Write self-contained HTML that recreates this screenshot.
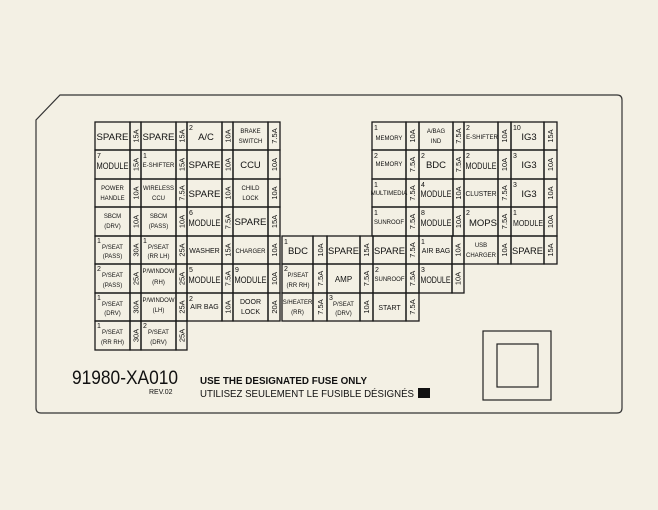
<!DOCTYPE html>
<html><head><meta charset="utf-8"><style>
html,body{margin:0;padding:0;background:#f3f0e4;}
svg{display:block}
.c{fill:none;stroke:#1a1a1a;stroke-width:1.3}
text{font-family:"Liberation Sans",sans-serif;fill:#111}
.b{font-size:9.5px;text-anchor:middle}
.s{font-size:6px;text-anchor:middle}
.n{font-size:7px}
.a{font-size:7.5px;text-anchor:middle}
</style></head><body>
<svg width="658" height="510" viewBox="0 0 658 510" xmlns="http://www.w3.org/2000/svg">
<rect width="658" height="510" fill="#f3f0e4"/>
<path d="M60,95 L617,95 Q622,95 622,100 L622,408 Q622,413 617,413 L41,413 Q36,413 36,408 L36,120 Z" fill="none" stroke="#333" stroke-width="1.2"/>
<rect x="483" y="331" width="68" height="69" fill="none" stroke="#222" stroke-width="1.2"/>
<rect x="497" y="344" width="41" height="43" fill="none" stroke="#222" stroke-width="1.2"/>
<text x="72" y="384" style="font-size:19px;font-weight:300" textLength="106" lengthAdjust="spacingAndGlyphs">91980-XA010</text>
<text x="149" y="394" style="font-size:7px">REV.02</text>
<text x="200" y="384" style="font-size:10px;font-weight:bold" textLength="167" lengthAdjust="spacingAndGlyphs">USE THE DESIGNATED FUSE ONLY</text>
<text x="200" y="397" style="font-size:10px" textLength="214" lengthAdjust="spacingAndGlyphs">UTILISEZ SEULEMENT LE FUSIBLE DÉSIGNÉS</text>
<rect x="418" y="388" width="12" height="10" fill="#111"/>

<g id="cells">
<!-- Row 1 -->
<rect class="c" x="95" y="122" width="35" height="28"/><rect class="c" x="130" y="122" width="11" height="28"/>
<text class="b" x="112.5" y="140" textLength="32" lengthAdjust="spacingAndGlyphs">SPARE</text><text class="a" transform="translate(138.5,136) rotate(-90)">15A</text>
<rect class="c" x="141" y="122" width="35" height="28"/><rect class="c" x="176" y="122" width="11" height="28"/>
<text class="b" x="158.5" y="140" textLength="32" lengthAdjust="spacingAndGlyphs">SPARE</text><text class="a" transform="translate(184.5,136) rotate(-90)">15A</text>
<rect class="c" x="187" y="122" width="35" height="28"/><rect class="c" x="222" y="122" width="11" height="28"/>
<text class="n" x="189" y="130">2</text><text class="b" x="206" y="140">A/C</text><text class="a" transform="translate(230.5,136) rotate(-90)">10A</text>
<rect class="c" x="233" y="122" width="35" height="28"/><rect class="c" x="268" y="122" width="12" height="28"/>
<text class="s" x="250.5" y="133">BRAKE</text><text class="s" x="250.5" y="143">SWITCH</text><text class="a" transform="translate(277,136) rotate(-90)">7.5A</text>

<rect class="c" x="372" y="122" width="34" height="28"/><rect class="c" x="406" y="122" width="13" height="28"/>
<text class="n" x="374" y="130">1</text><text class="s" x="389" y="140">MEMORY</text><text class="a" transform="translate(415,136) rotate(-90)">10A</text>
<rect class="c" x="419" y="122" width="34" height="28"/><rect class="c" x="453" y="122" width="11" height="28"/>
<text class="s" x="436" y="133">A/BAG</text><text class="s" x="436" y="143">IND</text><text class="a" transform="translate(461,136) rotate(-90)">7.5A</text>
<rect class="c" x="464" y="122" width="34" height="28"/><rect class="c" x="498" y="122" width="13" height="28"/>
<text class="n" x="466" y="130">2</text><text class="s" x="482" y="139">E-SHIFTER</text><text class="a" transform="translate(507,136) rotate(-90)">10A</text>
<rect class="c" x="511" y="122" width="33" height="28"/><rect class="c" x="544" y="122" width="13" height="28"/>
<text class="n" x="513" y="130">10</text><text class="b" x="529" y="140">IG3</text><text class="a" transform="translate(553,136) rotate(-90)">15A</text>

<!-- Row 2 -->
<rect class="c" x="95" y="150" width="35" height="29"/><rect class="c" x="130" y="150" width="11" height="29"/>
<text class="n" x="97" y="158">7</text><text class="b" x="112.5" y="169" textLength="32" lengthAdjust="spacingAndGlyphs">MODULE</text><text class="a" transform="translate(138.5,164.5) rotate(-90)">15A</text>
<rect class="c" x="141" y="150" width="35" height="29"/><rect class="c" x="176" y="150" width="11" height="29"/>
<text class="n" x="143" y="158">1</text><text class="s" x="158.5" y="167">E-SHIFTER</text><text class="a" transform="translate(184.5,164.5) rotate(-90)">15A</text>
<rect class="c" x="187" y="150" width="35" height="29"/><rect class="c" x="222" y="150" width="11" height="29"/>
<text class="b" x="204.5" y="168" textLength="32" lengthAdjust="spacingAndGlyphs">SPARE</text><text class="a" transform="translate(230.5,164.5) rotate(-90)">10A</text>
<rect class="c" x="233" y="150" width="35" height="29"/><rect class="c" x="268" y="150" width="12" height="29"/>
<text class="b" x="250.5" y="168">CCU</text><text class="a" transform="translate(277,164.5) rotate(-90)">10A</text>

<rect class="c" x="372" y="150" width="34" height="29"/><rect class="c" x="406" y="150" width="13" height="29"/>
<text class="n" x="374" y="158">2</text><text class="s" x="389" y="166">MEMORY</text><text class="a" transform="translate(415,164.5) rotate(-90)">7.5A</text>
<rect class="c" x="419" y="150" width="34" height="29"/><rect class="c" x="453" y="150" width="11" height="29"/>
<text class="n" x="421" y="158">2</text><text class="b" x="436" y="168">BDC</text><text class="a" transform="translate(461,164.5) rotate(-90)">7.5A</text>
<rect class="c" x="464" y="150" width="34" height="29"/><rect class="c" x="498" y="150" width="13" height="29"/>
<text class="n" x="466" y="158">2</text><text class="b" x="481" y="169" textLength="31" lengthAdjust="spacingAndGlyphs">MODULE</text><text class="a" transform="translate(507,164.5) rotate(-90)">10A</text>
<rect class="c" x="511" y="150" width="33" height="29"/><rect class="c" x="544" y="150" width="13" height="29"/>
<text class="n" x="513" y="158">3</text><text class="b" x="529" y="168">IG3</text><text class="a" transform="translate(553,164.5) rotate(-90)">10A</text>

<!-- Row 3 -->
<rect class="c" x="95" y="179" width="35" height="28"/><rect class="c" x="130" y="179" width="11" height="28"/>
<text class="s" x="112.5" y="190">POWER</text><text class="s" x="112.5" y="200">HANDLE</text><text class="a" transform="translate(138.5,193) rotate(-90)">10A</text>
<rect class="c" x="141" y="179" width="35" height="28"/><rect class="c" x="176" y="179" width="11" height="28"/>
<text class="s" x="158.5" y="190">WIRELESS</text><text class="s" x="158.5" y="200">CCU</text><text class="a" transform="translate(184.5,193) rotate(-90)">7.5A</text>
<rect class="c" x="187" y="179" width="35" height="28"/><rect class="c" x="222" y="179" width="11" height="28"/>
<text class="b" x="204.5" y="197" textLength="32" lengthAdjust="spacingAndGlyphs">SPARE</text><text class="a" transform="translate(230.5,193) rotate(-90)">10A</text>
<rect class="c" x="233" y="179" width="35" height="28"/><rect class="c" x="268" y="179" width="12" height="28"/>
<text class="s" x="250.5" y="190">CHILD</text><text class="s" x="250.5" y="200">LOCK</text><text class="a" transform="translate(277,193) rotate(-90)">10A</text>

<rect class="c" x="372" y="179" width="34" height="28"/><rect class="c" x="406" y="179" width="13" height="28"/>
<text class="n" x="374" y="187">1</text><text class="s" x="389" y="195">MULTIMEDIA</text><text class="a" transform="translate(415,193) rotate(-90)">7.5A</text>
<rect class="c" x="419" y="179" width="34" height="28"/><rect class="c" x="453" y="179" width="11" height="28"/>
<text class="n" x="421" y="187">4</text><text class="b" x="436" y="197" textLength="31" lengthAdjust="spacingAndGlyphs">MODULE</text><text class="a" transform="translate(461,193) rotate(-90)">10A</text>
<rect class="c" x="464" y="179" width="34" height="28"/><rect class="c" x="498" y="179" width="13" height="28"/>
<text class="b" x="481" y="196" style="font-size:7.5px" textLength="31" lengthAdjust="spacingAndGlyphs">CLUSTER</text><text class="a" transform="translate(507,193) rotate(-90)">7.5A</text>
<rect class="c" x="511" y="179" width="33" height="28"/><rect class="c" x="544" y="179" width="13" height="28"/>
<text class="n" x="513" y="187">3</text><text class="b" x="529" y="197">IG3</text><text class="a" transform="translate(553,193) rotate(-90)">10A</text>

<!-- Row 4 -->
<rect class="c" x="95" y="207" width="35" height="29"/><rect class="c" x="130" y="207" width="11" height="29"/>
<text class="s" x="112.5" y="218">SBCM</text><text class="s" x="112.5" y="228">(DRV)</text><text class="a" transform="translate(138.5,221.5) rotate(-90)">10A</text>
<rect class="c" x="141" y="207" width="35" height="29"/><rect class="c" x="176" y="207" width="11" height="29"/>
<text class="s" x="158.5" y="218">SBCM</text><text class="s" x="158.5" y="228">(PASS)</text><text class="a" transform="translate(184.5,221.5) rotate(-90)">10A</text>
<rect class="c" x="187" y="207" width="35" height="29"/><rect class="c" x="222" y="207" width="11" height="29"/>
<text class="n" x="189" y="215">6</text><text class="b" x="204.5" y="226" textLength="32" lengthAdjust="spacingAndGlyphs">MODULE</text><text class="a" transform="translate(230.5,221.5) rotate(-90)">7.5A</text>
<rect class="c" x="233" y="207" width="35" height="29"/><rect class="c" x="268" y="207" width="12" height="29"/>
<text class="b" x="250.5" y="225" textLength="32" lengthAdjust="spacingAndGlyphs">SPARE</text><text class="a" transform="translate(277,221.5) rotate(-90)">15A</text>

<rect class="c" x="372" y="207" width="34" height="29"/><rect class="c" x="406" y="207" width="13" height="29"/>
<text class="n" x="374" y="215">1</text><text class="s" x="389" y="224">SUNROOF</text><text class="a" transform="translate(415,221.5) rotate(-90)">7.5A</text>
<rect class="c" x="419" y="207" width="34" height="29"/><rect class="c" x="453" y="207" width="11" height="29"/>
<text class="n" x="421" y="215">8</text><text class="b" x="436" y="226" textLength="31" lengthAdjust="spacingAndGlyphs">MODULE</text><text class="a" transform="translate(461,221.5) rotate(-90)">10A</text>
<rect class="c" x="464" y="207" width="34" height="29"/><rect class="c" x="498" y="207" width="13" height="29"/>
<text class="n" x="466" y="215">2</text><text class="b" x="483" y="226">MOPS</text><text class="a" transform="translate(507,221.5) rotate(-90)">7.5A</text>
<rect class="c" x="511" y="207" width="33" height="29"/><rect class="c" x="544" y="207" width="13" height="29"/>
<text class="n" x="513" y="215">1</text><text class="b" x="528" y="226" style="font-size:8px" textLength="30" lengthAdjust="spacingAndGlyphs">MODULE</text><text class="a" transform="translate(553,221.5) rotate(-90)">10A</text>

<!-- Row 5 -->
<rect class="c" x="95" y="236" width="35" height="28"/><rect class="c" x="130" y="236" width="11" height="28"/>
<text class="n" x="97" y="243">1</text><text class="s" x="112.5" y="249">P/SEAT</text><text class="s" x="112.5" y="258">(PASS)</text><text class="a" transform="translate(138.5,250) rotate(-90)">30A</text>
<rect class="c" x="141" y="236" width="35" height="28"/><rect class="c" x="176" y="236" width="11" height="28"/>
<text class="n" x="143" y="243">1</text><text class="s" x="158.5" y="249">P/SEAT</text><text class="s" x="158.5" y="258">(RR LH)</text><text class="a" transform="translate(184.5,250) rotate(-90)">25A</text>
<rect class="c" x="187" y="236" width="35" height="28"/><rect class="c" x="222" y="236" width="11" height="28"/>
<text class="s" x="204.5" y="253" style="font-size:7px">WASHER</text><text class="a" transform="translate(230.5,250) rotate(-90)">15A</text>
<rect class="c" x="233" y="236" width="35" height="28"/><rect class="c" x="268" y="236" width="12" height="28"/>
<text class="s" x="250.5" y="253">CHARGER</text><text class="a" transform="translate(277,250) rotate(-90)">10A</text>
<rect class="c" x="282" y="236" width="31" height="28"/><rect class="c" x="313" y="236" width="14" height="28"/>
<text class="n" x="284" y="244">1</text><text class="b" x="298" y="254">BDC</text><text class="a" transform="translate(323,250) rotate(-90)">10A</text>
<rect class="c" x="327" y="236" width="33" height="28"/><rect class="c" x="360" y="236" width="13" height="28"/>
<text class="b" x="343.5" y="254" textLength="31" lengthAdjust="spacingAndGlyphs">SPARE</text><text class="a" transform="translate(369,250) rotate(-90)">15A</text>
<rect class="c" x="373" y="236" width="33" height="28"/><rect class="c" x="406" y="236" width="13" height="28"/>
<text class="b" x="389.5" y="254" textLength="31" lengthAdjust="spacingAndGlyphs">SPARE</text><text class="a" transform="translate(415,250) rotate(-90)">7.5A</text>
<rect class="c" x="419" y="236" width="33" height="28"/><rect class="c" x="452" y="236" width="12" height="28"/>
<text class="n" x="421" y="244">1</text><text class="s" x="436" y="253" style="font-size:7px">AIR BAG</text><text class="a" transform="translate(460.5,250) rotate(-90)">10A</text>
<rect class="c" x="464" y="236" width="34" height="28"/><rect class="c" x="498" y="236" width="13" height="28"/>
<text class="s" x="481" y="247">USB</text><text class="s" x="481" y="257">CHARGER</text><text class="a" transform="translate(507,250) rotate(-90)">10A</text>
<rect class="c" x="511" y="236" width="33" height="28"/><rect class="c" x="544" y="236" width="13" height="28"/>
<text class="b" x="527.5" y="254" textLength="31" lengthAdjust="spacingAndGlyphs">SPARE</text><text class="a" transform="translate(553,250) rotate(-90)">15A</text>

<!-- Row 6 -->
<rect class="c" x="95" y="264" width="35" height="29"/><rect class="c" x="130" y="264" width="11" height="29"/>
<text class="n" x="97" y="271">2</text><text class="s" x="112.5" y="277">P/SEAT</text><text class="s" x="112.5" y="287">(PASS)</text><text class="a" transform="translate(138.5,278.5) rotate(-90)">25A</text>
<rect class="c" x="141" y="264" width="35" height="29"/><rect class="c" x="176" y="264" width="11" height="29"/>
<text class="s" x="158.5" y="273">P/WINDOW</text><text class="s" x="158.5" y="284">(RH)</text><text class="a" transform="translate(184.5,278.5) rotate(-90)">25A</text>
<rect class="c" x="187" y="264" width="35" height="29"/><rect class="c" x="222" y="264" width="11" height="29"/>
<text class="n" x="189" y="272">5</text><text class="b" x="204.5" y="283" textLength="32" lengthAdjust="spacingAndGlyphs">MODULE</text><text class="a" transform="translate(230.5,278.5) rotate(-90)">7.5A</text>
<rect class="c" x="233" y="264" width="35" height="29"/><rect class="c" x="268" y="264" width="12" height="29"/>
<text class="n" x="235" y="272">9</text><text class="b" x="250.5" y="283" textLength="32" lengthAdjust="spacingAndGlyphs">MODULE</text><text class="a" transform="translate(277,278.5) rotate(-90)">10A</text>
<rect class="c" x="282" y="264" width="31" height="29"/><rect class="c" x="313" y="264" width="14" height="29"/>
<text class="n" x="284" y="271">2</text><text class="s" x="298" y="277">P/SEAT</text><text class="s" x="298" y="287">(RR RH)</text><text class="a" transform="translate(323,278.5) rotate(-90)">7.5A</text>
<rect class="c" x="327" y="264" width="33" height="29"/><rect class="c" x="360" y="264" width="13" height="29"/>
<text class="b" x="343.5" y="282" style="font-size:8px">AMP</text><text class="a" transform="translate(369,278.5) rotate(-90)">7.5A</text>
<rect class="c" x="373" y="264" width="33" height="29"/><rect class="c" x="406" y="264" width="13" height="29"/>
<text class="n" x="375" y="272">2</text><text class="s" x="389.5" y="281">SUNROOF</text><text class="a" transform="translate(415,278.5) rotate(-90)">7.5A</text>
<rect class="c" x="419" y="264" width="33" height="29"/><rect class="c" x="452" y="264" width="12" height="29"/>
<text class="n" x="421" y="272">3</text><text class="b" x="435.5" y="283" textLength="30" lengthAdjust="spacingAndGlyphs">MODULE</text><text class="a" transform="translate(460.5,278.5) rotate(-90)">10A</text>

<!-- Row 7 -->
<rect class="c" x="95" y="293" width="35" height="28"/><rect class="c" x="130" y="293" width="11" height="28"/>
<text class="n" x="97" y="300">1</text><text class="s" x="112.5" y="306">P/SEAT</text><text class="s" x="112.5" y="315">(DRV)</text><text class="a" transform="translate(138.5,307) rotate(-90)">30A</text>
<rect class="c" x="141" y="293" width="35" height="28"/><rect class="c" x="176" y="293" width="11" height="28"/>
<text class="s" x="158.5" y="302">P/WINDOW</text><text class="s" x="158.5" y="312">(LH)</text><text class="a" transform="translate(184.5,307) rotate(-90)">25A</text>
<rect class="c" x="187" y="293" width="35" height="28"/><rect class="c" x="222" y="293" width="11" height="28"/>
<text class="n" x="189" y="301">2</text><text class="s" x="204.5" y="309" style="font-size:7px">AIR BAG</text><text class="a" transform="translate(230.5,307) rotate(-90)">10A</text>
<rect class="c" x="233" y="293" width="35" height="28"/><rect class="c" x="268" y="293" width="12" height="28"/>
<text class="s" x="250.5" y="304" style="font-size:7px">DOOR</text><text class="s" x="250.5" y="314" style="font-size:7px">LOCK</text><text class="a" transform="translate(277,307) rotate(-90)">20A</text>
<rect class="c" x="282" y="293" width="31" height="28"/><rect class="c" x="313" y="293" width="14" height="28"/>
<text class="s" x="297.5" y="304">S/HEATER</text><text class="s" x="297.5" y="314">(RR)</text><text class="a" transform="translate(323,307) rotate(-90)">7.5A</text>
<rect class="c" x="327" y="293" width="33" height="28"/><rect class="c" x="360" y="293" width="13" height="28"/>
<text class="n" x="329" y="300">3</text><text class="s" x="343.5" y="306">P/SEAT</text><text class="s" x="343.5" y="315">(DRV)</text><text class="a" transform="translate(369,307) rotate(-90)">10A</text>
<rect class="c" x="373" y="293" width="33" height="28"/><rect class="c" x="406" y="293" width="13" height="28"/>
<text class="s" x="389.5" y="310" style="font-size:7px">START</text><text class="a" transform="translate(415,307) rotate(-90)">7.5A</text>

<!-- Row 8 -->
<rect class="c" x="95" y="321" width="35" height="29"/><rect class="c" x="130" y="321" width="11" height="29"/>
<text class="n" x="97" y="328">1</text><text class="s" x="112.5" y="334">P/SEAT</text><text class="s" x="112.5" y="344">(RR RH)</text><text class="a" transform="translate(138.5,335.5) rotate(-90)">30A</text>
<rect class="c" x="141" y="321" width="35" height="29"/><rect class="c" x="176" y="321" width="11" height="29"/>
<text class="n" x="143" y="328">2</text><text class="s" x="158.5" y="334">P/SEAT</text><text class="s" x="158.5" y="344">(DRV)</text><text class="a" transform="translate(184.5,335.5) rotate(-90)">25A</text>
</g>
</svg>
</body></html>
